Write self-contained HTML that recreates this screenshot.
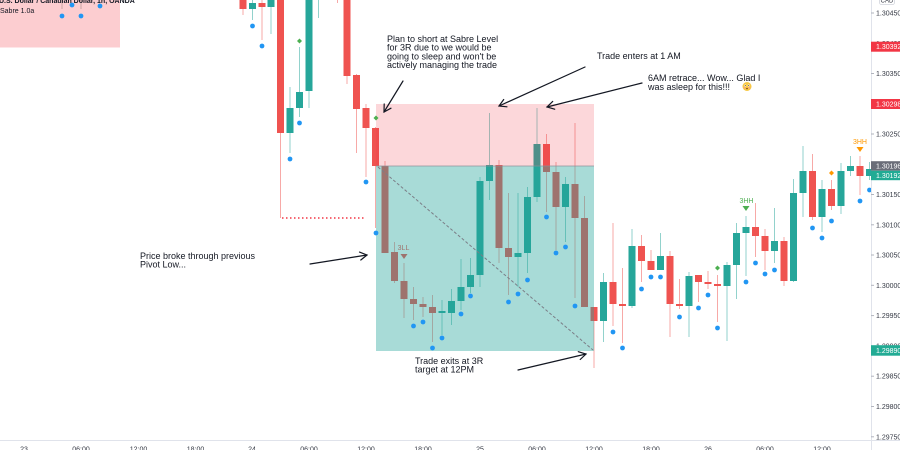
<!DOCTYPE html>
<html><head><meta charset="utf-8"><style>
html,body{margin:0;padding:0;background:#fff;}
svg{display:block;}
text{font-family:"Liberation Sans",sans-serif;}
</style></head><body>
<svg width="900" height="450" viewBox="0 0 900 450" xmlns="http://www.w3.org/2000/svg">
<defs><clipPath id="ch"><rect x="0" y="0" width="871" height="440"/></clipPath></defs>
<rect x="0" y="0" width="900" height="450" fill="#fff"/>
<g clip-path="url(#ch)">
<!-- top-left pink box -->
<rect x="0" y="0" width="120" height="47.5" fill="#f23645" fill-opacity="0.25"/>
<rect x="61.5" y="0" width="1" height="9" fill="#c9a5a5"/>
<rect x="80.5" y="0" width="1" height="9" fill="#c9a5a5"/>
<!-- candles -->
<g id="wicks">
<rect x="242.5" y="-10" width="1" height="25" fill="#f7a9a7"/>
<rect x="252" y="-10" width="1" height="30" fill="#92d2cc"/>
<rect x="261.5" y="-10" width="1" height="50" fill="#f7a9a7"/>
<rect x="270.5" y="-10" width="1" height="44" fill="#92d2cc"/>
<rect x="280" y="-10" width="1" height="228" fill="#f7a9a7"/>
<rect x="289.5" y="87" width="1" height="66" fill="#92d2cc"/>
<rect x="299" y="47" width="1" height="70" fill="#92d2cc"/>
<rect x="308.5" y="-10" width="1" height="118" fill="#92d2cc"/>
<rect x="318" y="-10" width="1" height="28" fill="#92d2cc"/>
<rect x="337" y="-10" width="1" height="13" fill="#f7a9a7"/>
<rect x="346.5" y="-10" width="1" height="94" fill="#f7a9a7"/>
<rect x="356" y="74" width="1" height="79" fill="#f7a9a7"/>
<rect x="365.5" y="104" width="1" height="73" fill="#f7a9a7"/>
<rect x="375" y="127" width="1" height="101" fill="#f7a9a7"/>
<rect x="384.5" y="161" width="1" height="92" fill="#f7a9a7"/>
<rect x="394" y="242" width="1" height="41" fill="#f7a9a7"/>
<rect x="403.5" y="263" width="1" height="55" fill="#f7a9a7"/>
<rect x="413" y="287" width="1" height="33" fill="#f7a9a7"/>
<rect x="422.5" y="297" width="1" height="20" fill="#f7a9a7"/>
<rect x="432" y="295" width="1" height="47" fill="#f7a9a7"/>
<rect x="441.5" y="300" width="1" height="35" fill="#92d2cc"/>
<rect x="451" y="289" width="1" height="36" fill="#92d2cc"/>
<rect x="460.5" y="259" width="1" height="51" fill="#92d2cc"/>
<rect x="470" y="258" width="1" height="35" fill="#92d2cc"/>
<rect x="479.5" y="177" width="1" height="110" fill="#92d2cc"/>
<rect x="489" y="113" width="1" height="87" fill="#92d2cc"/>
<rect x="498.5" y="160" width="1" height="103" fill="#f7a9a7"/>
<rect x="508" y="193" width="1" height="102" fill="#f7a9a7"/>
<rect x="517.5" y="193" width="1" height="94" fill="#92d2cc"/>
<rect x="527" y="187" width="1" height="86" fill="#92d2cc"/>
<rect x="536.5" y="108" width="1" height="94" fill="#92d2cc"/>
<rect x="546" y="134" width="1" height="78" fill="#f7a9a7"/>
<rect x="555.5" y="162" width="1" height="88" fill="#f7a9a7"/>
<rect x="565" y="177" width="1" height="65" fill="#92d2cc"/>
<rect x="574.5" y="123" width="1" height="175" fill="#f7a9a7"/>
<rect x="584" y="196" width="1" height="111" fill="#f7a9a7"/>
<rect x="593.5" y="307" width="1" height="61" fill="#f7a9a7"/>
<rect x="603" y="273" width="1" height="69" fill="#92d2cc"/>
<rect x="612.5" y="223" width="1" height="103" fill="#f7a9a7"/>
<rect x="622" y="268" width="1" height="75" fill="#f7a9a7"/>
<rect x="631.5" y="229" width="1" height="79" fill="#92d2cc"/>
<rect x="641" y="235" width="1" height="47" fill="#f7a9a7"/>
<rect x="650.5" y="250" width="1" height="20" fill="#f7a9a7"/>
<rect x="660" y="233" width="1" height="37" fill="#92d2cc"/>
<rect x="669.5" y="251" width="1" height="86" fill="#f7a9a7"/>
<rect x="679" y="279" width="1" height="30" fill="#f7a9a7"/>
<rect x="688.5" y="272" width="1" height="65" fill="#92d2cc"/>
<rect x="698" y="275" width="1" height="27" fill="#f7a9a7"/>
<rect x="707.5" y="271" width="1" height="18" fill="#f7a9a7"/>
<rect x="717" y="275" width="1" height="47" fill="#f7a9a7"/>
<rect x="726.5" y="262" width="1" height="79" fill="#92d2cc"/>
<rect x="736" y="223" width="1" height="76" fill="#92d2cc"/>
<rect x="745.5" y="216" width="1" height="60" fill="#92d2cc"/>
<rect x="755" y="203" width="1" height="54" fill="#f7a9a7"/>
<rect x="764.5" y="229" width="1" height="41" fill="#f7a9a7"/>
<rect x="774" y="208" width="1" height="55" fill="#92d2cc"/>
<rect x="783.5" y="237" width="1" height="49" fill="#f7a9a7"/>
<rect x="793" y="179" width="1" height="103" fill="#92d2cc"/>
<rect x="802.5" y="146" width="1" height="71" fill="#92d2cc"/>
<rect x="812" y="154" width="1" height="66" fill="#f7a9a7"/>
<rect x="821.5" y="180" width="1" height="52" fill="#92d2cc"/>
<rect x="831" y="180" width="1" height="30" fill="#f7a9a7"/>
<rect x="840.5" y="163" width="1" height="51" fill="#92d2cc"/>
<rect x="850" y="156" width="1" height="20" fill="#92d2cc"/>
<rect x="859.5" y="156" width="1" height="39" fill="#f7a9a7"/>
<rect x="869" y="162" width="1" height="18" fill="#92d2cc"/>
</g>
<g id="bodies">
<rect x="239.5" y="-10" width="7" height="19" fill="#ef5350"/>
<rect x="249" y="3" width="7" height="6" fill="#26a69a"/>
<rect x="258.5" y="3" width="7" height="4" fill="#ef5350"/>
<rect x="267.5" y="-10" width="7" height="17" fill="#26a69a"/>
<rect x="277" y="-10" width="7" height="143" fill="#ef5350"/>
<rect x="286.5" y="108" width="7" height="25" fill="#26a69a"/>
<rect x="296" y="92" width="7" height="16" fill="#26a69a"/>
<rect x="305.5" y="-10" width="7" height="101" fill="#26a69a"/>
<rect x="343.5" y="-10" width="7" height="86" fill="#ef5350"/>
<rect x="353" y="75" width="7" height="34" fill="#ef5350"/>
<rect x="362.5" y="108" width="7" height="20" fill="#ef5350"/>
<rect x="372" y="128" width="7" height="38" fill="#ef5350"/>
<rect x="381.5" y="166" width="7" height="87" fill="#ef5350"/>
<rect x="391" y="252" width="7" height="29" fill="#ef5350"/>
<rect x="400.5" y="281" width="7" height="18" fill="#ef5350"/>
<rect x="410" y="299" width="7" height="5" fill="#ef5350"/>
<rect x="419.5" y="304" width="7" height="3" fill="#ef5350"/>
<rect x="429" y="307" width="7" height="6" fill="#ef5350"/>
<rect x="438.5" y="311" width="7" height="2" fill="#26a69a"/>
<rect x="448" y="301" width="7" height="12" fill="#26a69a"/>
<rect x="457.5" y="287" width="7" height="14" fill="#26a69a"/>
<rect x="467" y="275" width="7" height="12" fill="#26a69a"/>
<rect x="476.5" y="181" width="7" height="94" fill="#26a69a"/>
<rect x="486" y="165" width="7" height="16" fill="#26a69a"/>
<rect x="495.5" y="165" width="7" height="83" fill="#ef5350"/>
<rect x="505" y="248" width="7" height="9" fill="#ef5350"/>
<rect x="514.5" y="253" width="7" height="4" fill="#26a69a"/>
<rect x="524" y="197" width="7" height="56" fill="#26a69a"/>
<rect x="533.5" y="144" width="7" height="53" fill="#26a69a"/>
<rect x="543" y="144" width="7" height="28" fill="#ef5350"/>
<rect x="552.5" y="172" width="7" height="35" fill="#ef5350"/>
<rect x="562" y="184" width="7" height="23" fill="#26a69a"/>
<rect x="571.5" y="184" width="7" height="34" fill="#ef5350"/>
<rect x="581" y="218" width="7" height="89" fill="#ef5350"/>
<rect x="590.5" y="307" width="7" height="14" fill="#ef5350"/>
<rect x="600" y="282" width="7" height="39" fill="#26a69a"/>
<rect x="609.5" y="282" width="7" height="22" fill="#ef5350"/>
<rect x="619" y="304" width="7" height="2" fill="#ef5350"/>
<rect x="628.5" y="246" width="7" height="60" fill="#26a69a"/>
<rect x="638" y="246" width="7" height="15" fill="#ef5350"/>
<rect x="647.5" y="261" width="7" height="9" fill="#ef5350"/>
<rect x="657" y="256" width="7" height="14" fill="#26a69a"/>
<rect x="666.5" y="256" width="7" height="48" fill="#ef5350"/>
<rect x="676" y="304" width="7" height="2" fill="#ef5350"/>
<rect x="685.5" y="276" width="7" height="30" fill="#26a69a"/>
<rect x="695" y="275" width="7" height="7" fill="#ef5350"/>
<rect x="704.5" y="282" width="7" height="2" fill="#ef5350"/>
<rect x="714" y="284" width="7" height="2" fill="#ef5350"/>
<rect x="723.5" y="265" width="7" height="21" fill="#26a69a"/>
<rect x="733" y="233" width="7" height="32" fill="#26a69a"/>
<rect x="742.5" y="227" width="7" height="6" fill="#26a69a"/>
<rect x="752" y="227" width="7" height="9" fill="#ef5350"/>
<rect x="761.5" y="236" width="7" height="15" fill="#ef5350"/>
<rect x="771" y="241" width="7" height="10" fill="#26a69a"/>
<rect x="780.5" y="241" width="7" height="40" fill="#ef5350"/>
<rect x="790" y="193" width="7" height="88" fill="#26a69a"/>
<rect x="799.5" y="171" width="7" height="22" fill="#26a69a"/>
<rect x="809" y="171" width="7" height="46" fill="#ef5350"/>
<rect x="818.5" y="189" width="7" height="28" fill="#26a69a"/>
<rect x="828" y="189" width="7" height="17" fill="#ef5350"/>
<rect x="837.5" y="171" width="7" height="35" fill="#26a69a"/>
<rect x="847" y="166" width="7" height="5" fill="#26a69a"/>
<rect x="856.5" y="166" width="7" height="10" fill="#ef5350"/>
<rect x="866" y="169" width="7" height="7" fill="#26a69a"/>
</g>
<!-- 3LL label (under overlay) -->
<text x="403.5" y="250" font-size="7" fill="#ef5350" text-anchor="middle">3LL</text>
<polygon points="400.5,254 407.5,254 404,259" fill="#ef5350"/>
<!-- position boxes -->
<rect x="376" y="104" width="218" height="62" fill="#f23645" fill-opacity="0.2"/>
<rect x="376" y="166" width="218" height="185" fill="#26a69a" fill-opacity="0.4"/>
<line x1="376" y1="166" x2="594" y2="166" stroke="#8a8d96" stroke-width="1" stroke-opacity="0.7"/>
<line x1="378" y1="167" x2="593" y2="350" stroke="#7b7e87" stroke-width="1" stroke-dasharray="3,2"/>
<!-- red dotted line -->
<line x1="282" y1="218" x2="365" y2="218" stroke="#f23645" stroke-width="1.5" stroke-dasharray="1.5,2.5"/>
<!-- dots -->
<g fill="#2196f3">
<circle cx="62" cy="16" r="2.4"/><circle cx="72" cy="5" r="2.4"/><circle cx="81" cy="16" r="2.4"/><circle cx="100" cy="6" r="2.4"/>
<circle cx="252.5" cy="26" r="2.4"/><circle cx="262" cy="46" r="2.4"/><circle cx="290" cy="159" r="2.4"/><circle cx="299.5" cy="123" r="2.4"/>
<circle cx="366" cy="182" r="2.4"/><circle cx="376" cy="233" r="2.4"/><circle cx="413.5" cy="326" r="2.4"/><circle cx="423" cy="322" r="2.4"/>
<circle cx="432.5" cy="348" r="2.4"/><circle cx="442" cy="338" r="2.4"/><circle cx="461" cy="314" r="2.4"/><circle cx="470.5" cy="296" r="2.4"/>
<circle cx="508.5" cy="302" r="2.4"/><circle cx="518" cy="294" r="2.4"/><circle cx="527.5" cy="280" r="2.4"/><circle cx="546.5" cy="217" r="2.4"/>
<circle cx="556" cy="253" r="2.4"/><circle cx="565.5" cy="247" r="2.4"/><circle cx="575" cy="306" r="2.4"/><circle cx="613" cy="332" r="2.4"/>
<circle cx="622.5" cy="348" r="2.4"/><circle cx="641.5" cy="289" r="2.4"/><circle cx="651" cy="277" r="2.4"/><circle cx="660.5" cy="277" r="2.4"/>
<circle cx="679.5" cy="317" r="2.4"/><circle cx="698.5" cy="308" r="2.4"/><circle cx="708" cy="295" r="2.4"/><circle cx="717.5" cy="328" r="2.4"/>
<circle cx="746" cy="282" r="2.4"/><circle cx="755.5" cy="263" r="2.4"/><circle cx="765" cy="274" r="2.4"/><circle cx="774.5" cy="270" r="2.4"/>
<circle cx="812.5" cy="228" r="2.4"/><circle cx="822" cy="238" r="2.4"/><circle cx="831.5" cy="221" r="2.4"/><circle cx="860" cy="201" r="2.4"/>
<circle cx="869.5" cy="190" r="2.4"/>
</g>
<!-- diamonds -->
<polygon points="299.5,38.5 302,41 299.5,43.5 297,41" fill="#4caf50"/>
<polygon points="376,115.5 378.5,118 376,120.5 373.5,118" fill="#4caf50"/>
<polygon points="717.5,265.5 720,268 717.5,270.5 715,268" fill="#4caf50"/>
<polygon points="831.5,170.5 834,173 831.5,175.5 829,173" fill="#ff9800"/>
<!-- 3HH labels -->
<text x="746.5" y="203" font-size="7" fill="#4caf50" text-anchor="middle">3HH</text>
<polygon points="742.5,206 749.5,206 746,211" fill="#4caf50"/>
<text x="860" y="144" font-size="7" fill="#ff9800" text-anchor="middle">3HH</text>
<polygon points="856.5,147 863.5,147 860,152" fill="#ff9800"/>
</g>
<!-- title -->
<text x="-1" y="3" font-size="7" font-weight="bold" fill="#131722">U.S. Dollar / Canadian Dollar, 1h, OANDA</text>
<text x="0" y="13" font-size="7" fill="#131722">Sabre 1.0a</text>
<!-- annotations -->
<g font-size="9" fill="#131722">
<text x="387" y="42">Plan to short at Sabre Level</text>
<text x="387" y="50.7">for 3R due to we would be</text>
<text x="387" y="59.4">going to sleep and won't be</text>
<text x="387" y="68">actively managing the trade</text>
<text x="597" y="59">Trade enters at 1 AM</text>
<text x="648" y="81">6AM retrace... Wow... Glad I</text>
<text x="648" y="90">was asleep for this!!! </text>
<text x="140" y="259">Price broke through previous</text>
<text x="140" y="267.5">Pivot Low...</text>
<text x="415" y="364">Trade exits at 3R</text>
<text x="415" y="372.5">target at 12PM</text>
</g>
<!-- emoji face -->
<circle cx="747" cy="86.5" r="4.5" fill="#f7c844"/>
<circle cx="745.3" cy="85.5" r="1" fill="#fff"/><circle cx="748.7" cy="85.5" r="1" fill="#fff"/>
<circle cx="745.3" cy="85.5" r="0.5" fill="#333"/><circle cx="748.7" cy="85.5" r="0.5" fill="#333"/>
<ellipse cx="747" cy="88.6" rx="0.9" ry="0.7" fill="#8a4a20"/>
<circle cx="744.6" cy="87.6" r="0.8" fill="#f59a9a"/><circle cx="749.4" cy="87.6" r="0.8" fill="#f59a9a"/>
<!-- arrows -->
<g stroke="#131722" stroke-width="1.2" fill="none" stroke-linecap="round">
<line x1="403" y1="81" x2="384" y2="112"/><polyline points="391,108.2 384,112 384.2,104"/>
<line x1="585" y1="67" x2="499" y2="106"/><polyline points="507,106.8 499,106 503.7,99.5"/>
<line x1="642" y1="83" x2="547" y2="107"/><polyline points="554.7,109.2 547,107 552.7,101.4"/>
<line x1="310" y1="264" x2="367" y2="255"/><polyline points="359.5,252.1 367,255 360.8,260"/>
<line x1="518" y1="370" x2="586" y2="354"/><polyline points="578.3,351.7 586,354 580.2,359.5"/>
</g>
<!-- axes -->
<line x1="0" y1="440.5" x2="900" y2="440.5" stroke="#e0e3eb" stroke-width="1"/>
<line x1="871.5" y1="0" x2="871.5" y2="450" stroke="#e0e3eb" stroke-width="1"/>
<g font-size="7" fill="#363a45">
<text x="876" y="15.5">1.30450</text>
<text x="876" y="45.8">1.30400</text>
<text x="876" y="76">1.30350</text>
<text x="876" y="136.5">1.30250</text>
<text x="876" y="197">1.30150</text>
<text x="876" y="227.3">1.30100</text>
<text x="876" y="257.5">1.30050</text>
<text x="876" y="287.8">1.30000</text>
<text x="876" y="318.1">1.29950</text>
<text x="876" y="348.5">1.29900</text>
<text x="876" y="378.7">1.29850</text>
<text x="876" y="409">1.29800</text>
<text x="876" y="439.3">1.29750</text>
</g>
<g stroke="#b2b5be" stroke-width="1">
<line x1="871" y1="13" x2="874" y2="13"/><line x1="871" y1="73.5" x2="874" y2="73.5"/>
<line x1="871" y1="134" x2="874" y2="134"/><line x1="871" y1="194.5" x2="874" y2="194.5"/>
<line x1="871" y1="224.8" x2="874" y2="224.8"/><line x1="871" y1="255" x2="874" y2="255"/>
<line x1="871" y1="285.3" x2="874" y2="285.3"/><line x1="871" y1="315.6" x2="874" y2="315.6"/>
<line x1="871" y1="376.2" x2="874" y2="376.2"/><line x1="871" y1="406.5" x2="874" y2="406.5"/>
<line x1="871" y1="436.8" x2="874" y2="436.8"/>
</g>
<!-- price tags -->
<rect x="871" y="41.7" width="29" height="10" fill="#f23645"/>
<text x="876" y="49.2" font-size="7" fill="#fff">1.30392</text>
<rect x="871" y="99" width="29" height="10" fill="#f23645"/>
<text x="876" y="106.5" font-size="7" fill="#fff">1.30298</text>
<rect x="871" y="161.2" width="29" height="9.5" fill="#6a6d78"/>
<text x="876" y="168.5" font-size="7" fill="#fff">1.30196</text>
<rect x="871" y="170.7" width="29" height="9.5" fill="#22ab94"/>
<text x="876" y="178" font-size="7" fill="#fff">1.30192</text>
<rect x="871" y="345.2" width="29" height="10.5" fill="#22ab94"/>
<text x="876" y="353" font-size="7" fill="#fff">1.29890</text>
<!-- CAD box -->
<rect x="879.5" y="-4" width="15" height="8.5" rx="2" fill="#fff" stroke="#d1d4dc" stroke-width="0.8"/>
<text x="887" y="2.5" font-size="6" fill="#363a45" text-anchor="middle">CAD</text>
<!-- time axis labels -->
<g font-size="7" fill="#363a45" text-anchor="middle">
<text x="24" y="451.7">23</text>
<text x="81" y="451.7">06:00</text>
<text x="138.5" y="451.7">12:00</text>
<text x="195.5" y="451.7">18:00</text>
<text x="252" y="451.7">24</text>
<text x="309" y="451.7">06:00</text>
<text x="366" y="451.7">12:00</text>
<text x="423" y="451.7">18:00</text>
<text x="480" y="451.7">25</text>
<text x="537" y="451.7">06:00</text>
<text x="594" y="451.7">12:00</text>
<text x="651" y="451.7">18:00</text>
<text x="708" y="451.7">26</text>
<text x="765" y="451.7">06:00</text>
<text x="822" y="451.7">12:00</text>
</g>
</svg>
</body></html>
